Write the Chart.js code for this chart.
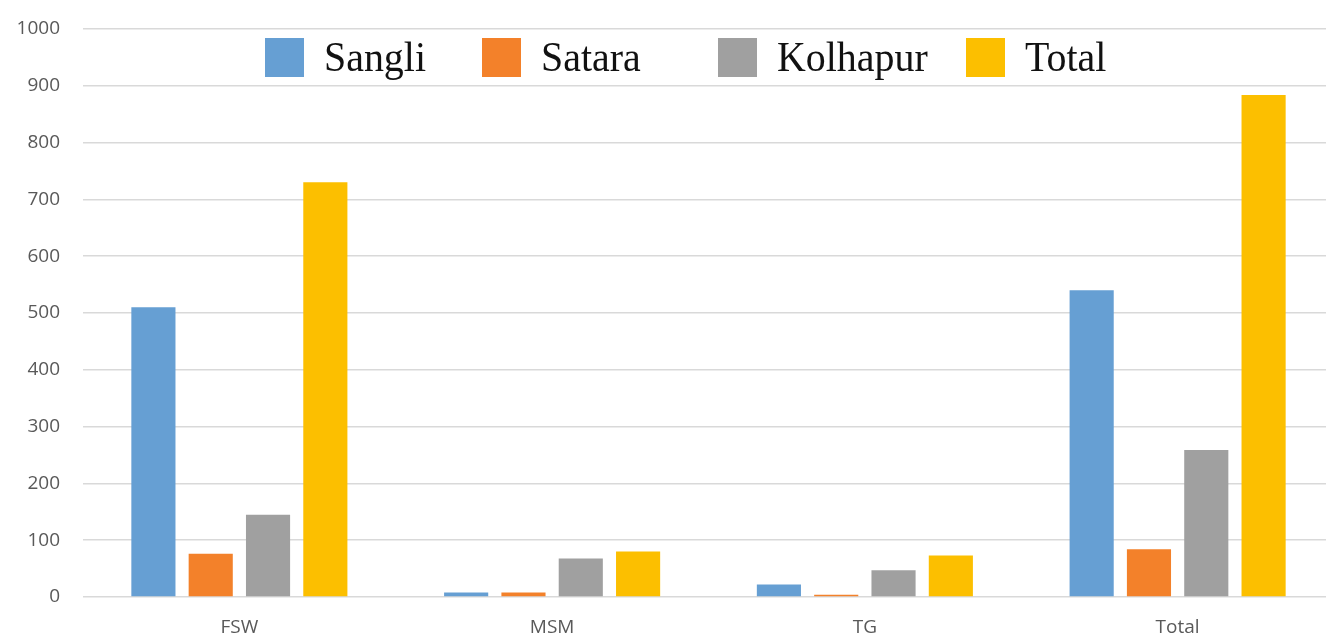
<!DOCTYPE html>
<html>
<head>
<meta charset="utf-8">
<script src="https://cdn.jsdelivr.net/npm/chart.js@4"></script>
<style>
  html, body { margin: 0; padding: 0; background: #fff; overflow: hidden; }
  #wrap { position: relative; width: 1334px; height: 637px; }
  #legend { position: absolute; left: 0; top: 0; width: 1334px; height: 637px; pointer-events: none; }
  .item { position: absolute; top: 37px; height: 40px; display: flex; align-items: center; }
  .box { width: 39px; height: 39px; }
  .lbl { font-family: "Liberation Serif", "Times New Roman", serif; font-size: 42px; color: #111; margin-left: 20px; transform: scaleX(0.95); transform-origin: left center; line-height: 40px; }
</style>
</head>
<body>
<div id="wrap">
  <canvas id="c" width="1334" height="637"></canvas>
  <div id="legend"></div>
</div>
<script>
const categories = ["FSW", "MSM", "TG", "Total"];
const seriesNames = ["Sangli", "Satara", "Kolhapur", "Total"];
const sangli = [510, 8, 22, 540];
const satara = [76, 8, 4, 84];
const kolhapur = [145, 68, 47, 259];
const total = [730, 80, 73, 884];
const yTicks = [0, 100, 200, 300, 400, 500, 600, 700, 800, 900, 1000];

const colors = ["#669FD3", "#F3812A", "#A0A0A0", "#FCBF00"];
const values = [sangli, satara, kolhapur, total];
const legendX = [265, 482, 718, 966];

const legend = document.getElementById('legend');
seriesNames.forEach((n, i) => {
  const d = document.createElement('div');
  d.className = 'item';
  d.style.left = legendX[i] + 'px';
  d.innerHTML = '<div class="box" style="background:' + colors[i] + '"></div><span class="lbl">' + n + '</span>';
  legend.appendChild(d);
});

new Chart(document.getElementById('c'), {
  type: 'bar',
  data: {
    labels: categories,
    datasets: seriesNames.map((n, i) => ({
      label: n,
      data: values[i],
      backgroundColor: colors[i],
      borderWidth: 0,
      categoryPercentage: 0.733,
      barPercentage: 0.77
    }))
  },
  options: {
    responsive: false,
    animation: false,
    layout: { padding: { top: 29, right: 0, bottom: 0, left: 0 } },
    plugins: { legend: { display: false }, tooltip: { enabled: false } },
    scales: {
      x: {
        grid: { display: false, drawTicks: false },
        border: { display: false },
        ticks: { color: '#595959', font: { family: 'Open Sans', size: 19 }, padding: 19 },
        afterFit: (s) => { s.height = 40; s.paddingLeft = 0; s.paddingRight = 0; }
      },
      y: {
        min: 0, max: 1000,
        afterBuildTicks: (s) => { s.ticks = yTicks.map(v => ({ value: v })); },
        grid: { color: '#d9d9d9', lineWidth: 1.5, drawTicks: false },
        border: { display: false },
        ticks: { color: '#595959', font: { family: 'Open Sans', size: 19 }, padding: 23, callback: (v) => String(v) },
        afterFit: (s) => { s.width = 83; s.paddingTop = 0; s.paddingBottom = 0; }
      }
    }
  }
});
</script>
</body>
</html>
